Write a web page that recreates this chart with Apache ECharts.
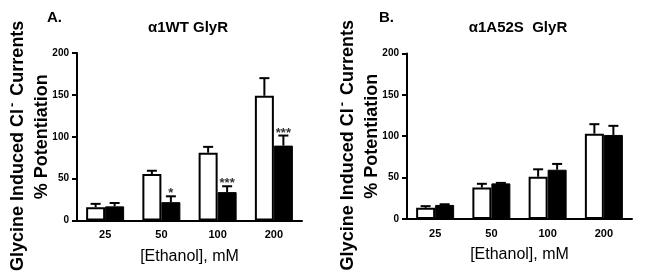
<!DOCTYPE html>
<html>
<head>
<meta charset="utf-8">
<script src="https://cdn.jsdelivr.net/npm/echarts@6/dist/echarts.min.js"></script>
<style>
  html, body { margin: 0; padding: 0; background: #fff; }
  #chart { width: 651px; height: 273px; }
</style>
</head>
<body>
<div id="chart"></div>
<script>
// ethanol concentrations (mM)
const categories = ['25', '50', '100', '200'];

// panel A - a1WT GlyR
const wtOpen = [16, 55.5, 81, 149];
const wtOpenErr = [4, 4, 7, 21];
const wtFilled = [17, 22, 34, 89.5];
const wtFilledErr = [4, 7, 7, 12];
const wtStars = ['', '*', '***', '***'];

// panel B - a1A52S GlyR
const a52sOpen = [13.5, 38, 51, 103];
const a52sOpenErr = [2, 4.5, 9, 11.5];
const a52sFilled = [17, 43, 59.5, 101.5];
const a52sFilledErr = [0.8, 0.6, 7, 11];
const a52sStars = ['', '', '', ''];

const yTicks = [0, 50, 100, 150, 200];

const FONT = 'Liberation Sans, Arial, sans-serif';
const BAR_W = 19;

const chart = echarts.init(document.getElementById('chart'));

function xAxisOf(i) {
  return {
    type: 'category',
    gridIndex: i,
    data: categories,
    name: '[Ethanol], mM',
    nameLocation: 'middle',
    nameGap: 28,
    nameMoveOverlap: false,
    nameTextStyle: { fontFamily: FONT, fontSize: 16, color: '#000' },
    axisLine: { lineStyle: { color: '#000', width: 2 } },
    axisTick: { show: false },
    axisLabel: { fontFamily: FONT, fontSize: 11, fontWeight: 'bold', color: '#000', margin: 9 }
  };
}

function yAxisOf(i) {
  return {
    type: 'value',
    gridIndex: i,
    min: yTicks[0],
    max: yTicks[yTicks.length - 1],
    interval: 50,
    // first line padded on its right so it sits a little lower once rotated
    name: '{l1|Glycine Induced Cl}{sup|-}{l1| Currents}{gap|}\n% Potentiation',
    nameLocation: 'middle',
    nameRotate: 90,
    nameGap: 23,
    nameMoveOverlap: false,
    nameTextStyle: {
      fontFamily: FONT, fontSize: 18, fontWeight: 'bold', color: '#000', lineHeight: 24,
      rich: {
        l1: { fontFamily: FONT, fontSize: 18, fontWeight: 'bold', color: '#000', lineHeight: 24 },
        sup: { fontFamily: FONT, fontSize: 13, fontWeight: 'bold', color: '#000', verticalAlign: 'top', padding: [0, 2, 8, 2] },
        gap: { width: 18 }
      }
    },
    axisLine: { show: true, lineStyle: { color: '#000', width: 2 } },
    axisTick: { show: true, length: 5, lineStyle: { color: '#000', width: 2 } },
    axisLabel: { fontFamily: FONT, fontSize: 10, fontWeight: 'bold', color: '#000', margin: 8 },
    splitLine: { show: false }
  };
}

function barSeries(i, values, filled) {
  return {
    type: 'bar',
    xAxisIndex: i,
    yAxisIndex: i,
    data: values,
    barWidth: BAR_W,
    barGap: '0%',
    itemStyle: filled
      ? { color: '#000', borderColor: '#000', borderWidth: 1 }
      : { color: '#fff', borderColor: '#000', borderWidth: 2 },
    z: 2
  };
}

// upward error bar with cap, plus significance stars above it
function errorSeries(i, values, errs, side, stars) {
  return {
    type: 'custom',
    xAxisIndex: i,
    yAxisIndex: i,
    data: values.map((v, k) => [k, v, v + errs[k]]),
    z: 3,
    renderItem: function (params, api) {
      const k = api.value(0);
      const base = api.coord([k, api.value(1)]);
      const top = api.coord([k, api.value(2)]);
      const x = base[0] + side * BAR_W / 2;
      const children = [
        { type: 'line', shape: { x1: x, y1: base[1], x2: x, y2: top[1] }, style: { stroke: '#000', lineWidth: 2 } },
        { type: 'line', shape: { x1: x - 5, y1: top[1], x2: x + 5, y2: top[1] }, style: { stroke: '#000', lineWidth: 2 } }
      ];
      if (stars && stars[k]) {
        children.push({
          type: 'text',
          style: { text: stars[k], x: x, y: top[1] + 4, align: 'center', verticalAlign: 'bottom', fill: '#333', font: 'bold 13px ' + FONT }
        });
      }
      return { type: 'group', children: children };
    }
  };
}

const titleStyle = { fontFamily: FONT, fontSize: 15, fontWeight: 'bold', color: '#000' };

chart.setOption({
  animation: false,
  backgroundColor: '#fff',
  title: [
    { text: 'A.', left: 47, top: 10, padding: 0, textStyle: titleStyle },
    { text: 'α1WT GlyR', left: 188, top: 20, padding: 0, textAlign: 'center', textStyle: titleStyle },
    { text: 'B.', left: 379, top: 10, padding: 0, textStyle: titleStyle },
    { text: 'α1A52S  GlyR', left: 518, top: 20, padding: 0, textAlign: 'center', textStyle: titleStyle }
  ],
  grid: [
    { left: 77, top: 53, width: 225, height: 168 },
    { left: 407, top: 45, width: 225, height: 174 }
  ],
  xAxis: [xAxisOf(0), xAxisOf(1)],
  yAxis: [yAxisOf(0), yAxisOf(1)],
  series: [
    barSeries(0, wtOpen, false),
    barSeries(0, wtFilled, true),
    errorSeries(0, wtOpen, wtOpenErr, -1, null),
    errorSeries(0, wtFilled, wtFilledErr, 1, wtStars),
    barSeries(1, a52sOpen, false),
    barSeries(1, a52sFilled, true),
    errorSeries(1, a52sOpen, a52sOpenErr, -1, null),
    errorSeries(1, a52sFilled, a52sFilledErr, 1, a52sStars)
  ]
});
</script>
</body>
</html>
